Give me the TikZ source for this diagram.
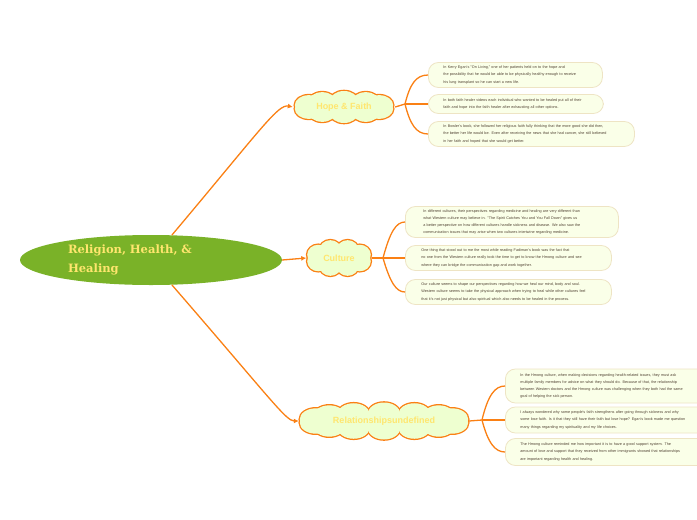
\documentclass[tikz,border=0pt]{standalone}
\usepackage{fontspec}
\setmainfont{Liberation Sans}
\newfontfamily\rootfont{DejaVu Serif}
\usetikzlibrary{shapes.geometric,arrows.meta}
\definecolor{conn}{RGB}{250,128,20}
\definecolor{rootgreen}{RGB}{122,178,40}
\definecolor{ytext}{RGB}{255,230,110}
\definecolor{cloudfill}{RGB}{238,255,208}
\definecolor{leaffill}{RGB}{250,255,232}
\definecolor{leafline}{RGB}{238,228,196}
\definecolor{leaftext}{RGB}{80,66,50}
\tikzset{
  connline/.style={draw=conn, line width=1.3pt},
  arrowline/.style={connline, -{Latex[length=5pt,width=5pt]}},
  cloudlabel/.style={ellipse, inner sep=0pt, text=ytext, font=\bfseries\fontsize{9}{10}\selectfont},
  leaf/.style={draw=leafline, line width=0.8pt, fill=leaffill, rounded corners=10pt, anchor=west,
     align=left, text=leaftext, font=\fontsize{3.75}{7.2}\selectfont, inner ysep=0pt}
}
% cx cy ax ay rx ry n offset
\newcommand\mycloud[8]{%
  \foreach \k in {1,...,#7}{\pgfmathsetmacro\ang{360*\k/#7+#8}
    \draw[draw=conn,line width=2.6pt] ({#1+#3*cos(\ang)},{#2+#4*sin(\ang)}) ellipse [x radius=#5pt, y radius=#6pt];}
  \fill[cloudfill] (#1,#2) ellipse [x radius=#3pt, y radius=#4pt];
  \foreach \k in {1,...,#7}{\pgfmathsetmacro\ang{360*\k/#7+#8}
    \fill[cloudfill] ({#1+#3*cos(\ang)},{#2+#4*sin(\ang)}) ellipse [x radius=#5pt, y radius=#6pt];}
}
\begin{document}
\begin{tikzpicture}[x=1pt,y=-1pt]
\useasboundingbox (0,0) rectangle (697,520);
% root
\node[ellipse, fill=rootgreen, minimum width=262pt, minimum height=50pt, inner sep=0pt] (root) at (151,260) {};
\node[text width=166pt, align=left, text=ytext, font=\rootfont\bfseries\fontsize{11.5}{19}\selectfont, inner sep=0pt] (rootlabel) at (151,260) {Religion, Health, \&\\Healing};
% clouds
\mycloud{344}{107}{37}{6}{14}{10}{10}{18}
\mycloud{339}{258}{22.5}{8.5}{11}{10}{8}{22.5}
\mycloud{384}{421}{70}{7.5}{16}{11}{14}{12.86}
\node[cloudlabel, minimum width=102pt, minimum height=32pt] (hf) at (344,107) {Hope \& Faith};
\node[cloudlabel, minimum width=65pt, minimum height=37pt] (cul) at (339,258) {Culture};
\node[cloudlabel, minimum width=170pt, minimum height=37pt] (rel) at (384,421) {Relationshipsundefined};
% junctions
\coordinate (hfj) at (405,104);
\coordinate (culj) at (383,258);
\coordinate (relj) at (482,420);
% leaves Hope & Faith
\node[leaf, text width=144pt, inner xsep=15pt, minimum height=25pt] (hf1) at (428,75) {In Kerry Egan's "On Living," one of her patients held on to the hope and\\the possibility that he would be able to be physically healthy enough to receive\\his lung transplant so he can start a new life.};
\node[leaf, text width=145pt, inner xsep=15pt, minimum height=19pt] (hf2) at (428,104) {In both faith healer videos each individual who wanted to be healed put all of their\\faith and hope into the faith healer after exhausting all other options.};
\node[leaf, text width=176pt, inner xsep=15pt, minimum height=25pt] (hf3) at (428,134) {In Bowler's book, she followed her religious faith fully thinking that the more good she did then,\\the better her life would be. Even after receiving the news that she had cancer, she still believed\\in her faith and hoped that she would get better.};
% leaves Culture
\node[leaf, text width=177pt, inner xsep=18pt, minimum height=31pt] (c1) at (405,222) {In different cultures, their perspectives regarding medicine and healing are very different than\\what Western culture may believe in. "The Spirit Catches You and You Fall Down" gives us\\a better perspective on how different cultures handle sickness and disease. We also saw the\\communication issues that may arise when two cultures intertwine regarding medicine.};
\node[leaf, text width=174pt, inner xsep=16pt, minimum height=25pt] (c2) at (405,258) {One thing that stood out to me the most while reading Fadiman's book was the fact that\\no one from the Western culture really took the time to get to know the Hmong culture and see\\where they can bridge the communication gap and work together.};
\node[leaf, text width=174pt, inner xsep=16pt, minimum height=25pt] (c3) at (405,292) {Our culture seems to shape our perspectives regarding how we heal our mind, body and soul.\\Western culture seems to take the physical approach when trying to heal while other cultures feel\\that it's not just physical but also spiritual which also needs to be healed in the process.};
% leaves Relationships
\node[leaf, text width=180pt, inner xsep=15pt, minimum height=34pt] (r1) at (505,386) {In the Hmong culture, when making decisions regarding health-related issues, they must ask\\multiple family members for advice on what they should do. Because of that, the relationship\\between Western doctors and the Hmong culture was challenging when they both had the same\\goal of helping the sick person.};
\node[leaf, text width=180pt, inner xsep=15pt, minimum height=26pt] (r2) at (505,420) {I always wondered why some people's faith strengthens after going through sickness and why\\some lose faith. Is it that they still have their faith but lose hope? Egan's book made me question\\many things regarding my spirituality and my life choices.};
\node[leaf, text width=180pt, inner xsep=15pt, minimum height=27pt] (r3) at (505,452) {The Hmong culture reminded me how important it is to have a good support system. The\\amount of love and support that they received from other immigrants showed that relationships\\are important regarding health and healing.};
% root connectors
\draw[arrowline] (root.50) .. controls (262,128) and (278,104) .. (hf.west);
\draw[arrowline] (root.east) -- (cul.west);
\draw[arrowline] (root.-50) .. controls (270,398) and (286,421) .. (rel.west);
% branch connectors
\draw[connline] (hf.east) -- (hfj);
\draw[connline] (hfj) .. controls (410,84) and (416,75) .. (hf1.west);
\draw[connline] (hfj) -- (hf2.west);
\draw[connline] (hfj) .. controls (410,124) and (416,134) .. (hf3.west);
\draw[connline] (cul.east) -- (culj);
\draw[connline] (culj) .. controls (390,232) and (396,222) .. (c1.west);
\draw[connline] (culj) -- (c2.west);
\draw[connline] (culj) .. controls (390,282) and (396,292) .. (c3.west);
\draw[connline] (rel.east) -- (relj);
\draw[connline] (relj) .. controls (488,395) and (495,386) .. (r1.west);
\draw[connline] (relj) -- (r2.west);
\draw[connline] (relj) .. controls (488,443) and (495,452) .. (r3.west);
\end{tikzpicture}
\end{document}
